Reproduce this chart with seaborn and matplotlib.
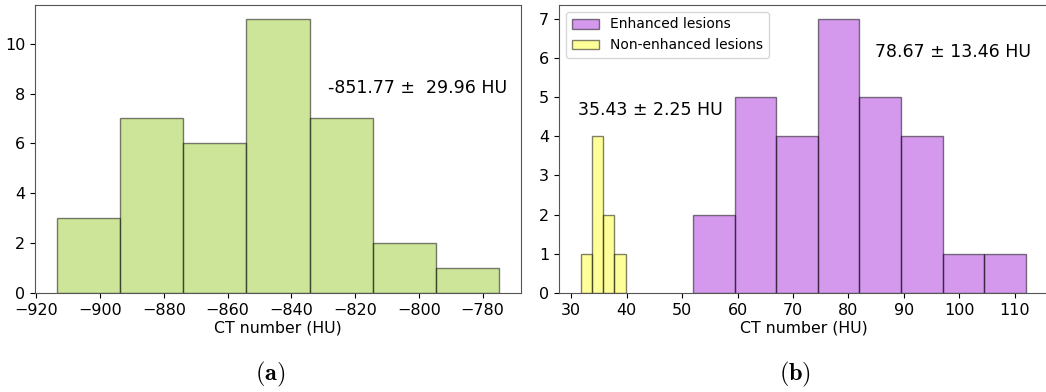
import numpy as np
import matplotlib
matplotlib.use("Agg")
import matplotlib.pyplot as plt
import matplotlib.colors as mcolors
import seaborn as sns

# ---- data (histogram bin edges and counts) ----
air_edges = [-913.5, -893.7, -873.9, -854.1, -834.3, -814.5, -794.7, -774.9]
air_counts = [3, 7, 6, 11, 7, 2, 1]

enh_edges = [52.0, 59.5, 67.0, 74.5, 82.0, 89.5, 97.0, 104.5, 112.0]
enh_counts = [2, 5, 4, 7, 5, 4, 1, 1]

non_edges = [31.8, 33.8, 35.8, 37.8, 39.8]
non_counts = [1, 4, 2, 1]

air_text = "-851.77 \u00b1  29.96 HU"
enh_text = "78.67 \u00b1 13.46 HU"
non_text = "35.43 \u00b1 2.25 HU"
xlabel = "CT number (HU)"
labels = ["Enhanced lesions", "Non-enhanced lesions"]


def centers(edges):
    e = np.asarray(edges)
    return (e[:-1] + e[1:]) / 2


def restyle(ax, start, color, alpha):
    face = mcolors.to_rgba(color, alpha)
    for p in ax.patches[start:]:
        p.set_alpha(None)
        p.set_facecolor(face)
        p.set_edgecolor((0, 0, 0, 0.5))
        p.set_linewidth(1.0)
    return len(ax.patches)


plt.rcParams["mathtext.fontset"] = "cm"
fig = plt.figure(figsize=(10.46, 3.92), dpi=100)
W, H = 1046, 392

ax1 = fig.add_axes([35 / W, 99 / H, (521 - 35) / W, 288 / H])
ax2 = fig.add_axes([559 / W, 99 / H, (1048 - 559) / W, 288 / H])

sns.histplot(x=centers(air_edges), weights=air_counts, bins=air_edges, ax=ax1)
restyle(ax1, 0, "yellowgreen", 0.5)

sns.histplot(x=centers(enh_edges), weights=enh_counts, bins=enh_edges,
             label=labels[0], ax=ax2)
n = restyle(ax2, 0, "darkviolet", 0.4)
sns.histplot(x=centers(non_edges), weights=non_counts, bins=non_edges,
             label=labels[1], ax=ax2)
restyle(ax2, n, "yellow", 0.4)

for ax in (ax1, ax2):
    ax.set_xlabel(xlabel, fontsize=11.3, labelpad=2)
    ax.set_ylabel("")
    ax.tick_params(labelsize=11.5)
    for s in ax.spines.values():
        s.set_color("#555555")
ax2.spines["right"].set_visible(False)

ax1.text(-828.6, 8.23, air_text, fontsize=12.5, ha="left", va="center")
ax2.text(84.8, 6.16, enh_text, fontsize=12.5, ha="left", va="center")
ax2.text(31.2, 4.67, non_text, fontsize=12.5, ha="left", va="center")

ax2.legend(loc="upper left", fontsize=10)

fig.text(270 / W, 1 - 374 / H, r"$\mathbf{(a)}$", fontsize=17.5, ha="center", va="center")
fig.text(795 / W, 1 - 374 / H, r"$\mathbf{(b)}$", fontsize=17.5, ha="center", va="center")

fig.savefig("out.png", dpi=100)
